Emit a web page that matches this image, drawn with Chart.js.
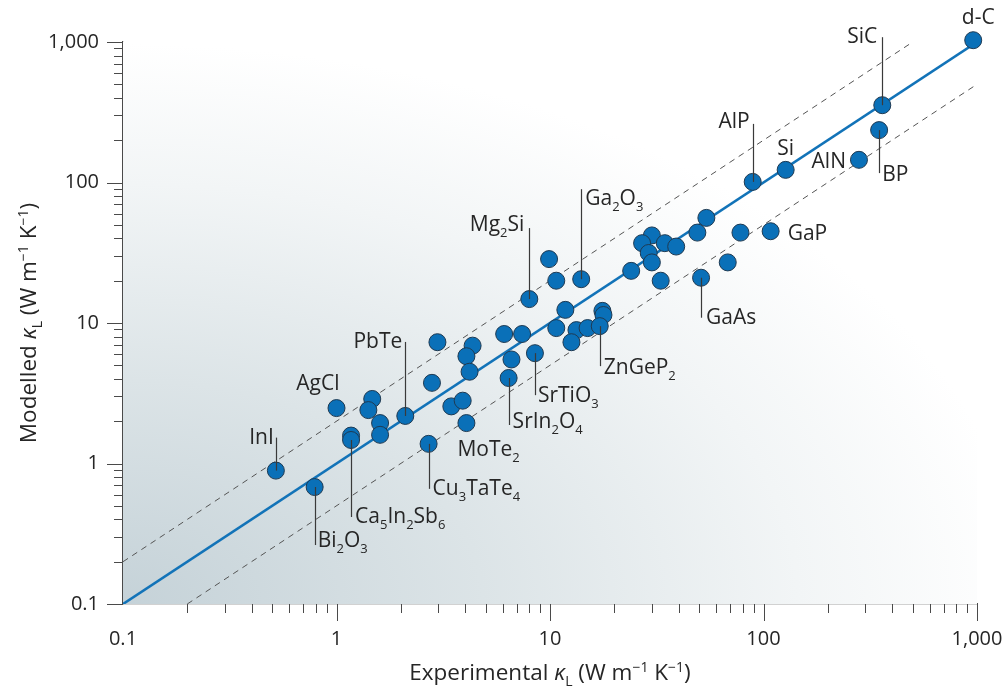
<!DOCTYPE html>
<html>
<head>
<meta charset="utf-8">
<title>Modelled vs experimental lattice thermal conductivity</title>
<script src="https://cdn.jsdelivr.net/npm/chart.js@4.4.1/dist/chart.umd.min.js"></script>
<style>
  html, body { margin: 0; padding: 0; background: #fff; }
  #kappaChart { display: block; }
</style>
</head>
<body>
<canvas id="kappaChart" width="1007" height="691"></canvas>
<script>
/* ===============================
   κL parity plot — modelled vs experimental
================================ */

// experimental κL (W m-1 K-1)
const expKappa = [
    960, 360, 348, 280, 127, 89, 108, 78, 54, 49,
    68, 51, 33, 30, 27, 34.5, 39, 29, 30, 24,
    9.9, 10.7, 14, 8, 11.8, 17.6, 17.8, 10.7, 13.3, 15,
    17.1, 12.6, 6.1, 7.4, 8.5, 6.6, 6.4, 2.97, 4.34, 4.06,
    4.2, 2.8, 3.45, 3.9, 4.06, 2.1, 1.0, 1.47, 1.41, 1.6,
    1.6, 1.17, 1.17, 2.7, 0.52, 0.79
];

// modelled κL (W m-1 K-1)
const modKappa = [
    1030, 355, 236, 145, 123, 101, 45, 44, 56, 44,
    27, 21, 20, 42, 37, 37, 35, 31.5, 27, 23.5,
    28.5, 20, 20.5, 14.8, 12.4, 12.2, 11.4, 9.2, 8.9, 9.2,
    9.5, 7.3, 8.35, 8.35, 6.1, 5.5, 4.06, 7.3, 6.9, 5.8,
    4.5, 3.75, 2.55, 2.8, 1.94, 2.18, 2.48, 2.88, 2.4, 1.94,
    1.6, 1.58, 1.47, 1.38, 0.89, 0.68
];

// material names (digits are written as subscripts), null = unlabelled
const materials = [
    'd-C', 'SiC', 'BP', 'AlN', 'Si', 'AlP', 'GaP', null, null, null,
    null, 'GaAs', null, null, null, null, null, null, null, null,
    null, null, 'Ga2O3', 'Mg2Si', null, null, null, null, null, null,
    'ZnGeP2', null, null, null, 'SrTiO3', null, 'SrIn2O4', null, null, null,
    null, null, null, null, 'MoTe2', 'PbTe', 'AgCl', null, null, null,
    null, null, 'Ca5In2Sb6', 'Cu3TaTe4', 'InI', 'Bi2O3'
];

// guide lines: parity and factor-of-two band
const parityX = [0.1, 1000];
const parityY = [0.1, 1000];
const upperX = [0.1, 500];
const upperY = [0.2, 1000];
const lowerX = [0.2, 1000];
const lowerY = [0.1, 500];

// axis ticks
const majorTicks = [0.1, 1, 10, 100, 1000];
const majorLabels = ['0.1', '1', '10', '100', '1,000'];
const minorSteps = [2, 3, 4, 5, 6, 7, 8, 9];

/* ── styling ── */
const FONT = '"Open Sans", "Noto Sans", sans-serif';
const TEXT = '#262626';
const AXIS = '#4a4a4a';
const BLUE = '#0a70b8';
const LABEL_SIZE = 21;

// where each material label sits relative to its marker (px)
const labelLayout = {
    'd-C':       { align: 'center', dx: 5,   dy: -16 },
    'SiC':       { align: 'right',  dx: -5,  dy: -62, lead: [-68, 0] },
    'BP':        { align: 'left',   dx: 3,   dy: 51,  lead: [0, 43] },
    'AlN':       { align: 'right',  dx: -13, dy: 8 },
    'Si':        { align: 'center', dx: 0,   dy: -15 },
    'AlP':       { align: 'right',  dx: -3,  dy: -54, lead: [-58, 0] },
    'GaP':       { align: 'left',   dx: 17,  dy: 9 },
    'GaAs':      { align: 'left',   dx: 5,   dy: 46,  lead: [0, 40] },
    'Ga2O3':     { align: 'left',   dx: 4,   dy: -74, lead: [-90, 0] },
    'Mg2Si':     { align: 'right',  dx: -5,  dy: -68, lead: [-71, 0] },
    'ZnGeP2':    { align: 'left',   dx: 4,   dy: 48,  lead: [0, 40] },
    'SrTiO3':    { align: 'left',   dx: 3,   dy: 49,  lead: [0, 42] },
    'SrIn2O4':   { align: 'left',   dx: 4,   dy: 50,  lead: [0, 47] },
    'MoTe2':     { align: 'left',   dx: -9,  dy: 33 },
    'PbTe':      { align: 'right',  dx: -3,  dy: -68, lead: [-74, 0] },
    'AgCl':      { align: 'right',  dx: 3,   dy: -18 },
    'InI':       { align: 'right',  dx: -2,  dy: -27, lead: [-33, 0] },
    'Bi2O3':     { align: 'left',   dx: 3,   dy: 60,  lead: [0, 58] },
    'Ca5In2Sb6': { align: 'left',   dx: 4,   dy: 83,  lead: [0, 77] },
    'Cu3TaTe4':  { align: 'left',   dx: 4,   dy: 51,  lead: [0, 45] }
};

const toPoints = (xs, ys) => xs.map((x, i) => ({ x, y: ys[i] }));

/* ── rich text (sub/superscripts, italics) ── */
function partFont(p, size) {
    const s = (p.sub || p.sup) ? Math.round(size * 0.62) : size;
    return `${p.italic ? 'italic ' : ''}${s}px ${FONT}`;
}

function richWidth(ctx, parts, size) {
    return parts.reduce((w, p) => {
        ctx.font = partFont(p, size);
        return w + ctx.measureText(p.text).width;
    }, 0);
}

function drawRich(ctx, parts, x, y, align, size) {
    const total = richWidth(ctx, parts, size);
    let cx = align === 'right' ? x - total : align === 'center' ? x - total / 2 : x;
    ctx.textAlign = 'left';
    ctx.textBaseline = 'alphabetic';
    parts.forEach(p => {
        ctx.font = partFont(p, size);
        const off = p.sub ? size * 0.27 : p.sup ? -size * 0.36 : 0;
        ctx.fillText(p.text, cx, y + off);
        cx += ctx.measureText(p.text).width;
    });
}

// "Ga2O3" -> Ga, ₂, O, ₃
function formulaParts(name) {
    return name.split(/(\d+)/).filter(Boolean)
        .map(s => /^\d+$/.test(s) ? { text: s, sub: true } : { text: s });
}

function kappaTitle(prefix) {
    return [
        { text: prefix + ' ' }, { text: 'κ', italic: true }, { text: 'L', sub: true },
        { text: ' (W m' }, { text: '−1', sup: true }, { text: ' K' }, { text: '−1', sup: true },
        { text: ')' }
    ];
}

/* ── plugins ── */
const plotBackground = {
    id: 'plotBackground',
    beforeDatasetsDraw(chart) {
        const { ctx, chartArea: a } = chart;
        const rx = 900, ry = 560;
        ctx.save();
        ctx.beginPath();
        ctx.rect(a.left, a.top, a.right - a.left, a.bottom - a.top);
        ctx.clip();
        ctx.translate(a.left, a.bottom);
        ctx.scale(rx / ry, 1);
        const g = ctx.createRadialGradient(0, 0, 0, 0, 0, ry);
        g.addColorStop(0, '#c5d2d8');
        g.addColorStop(0.4, '#dce4e7');
        g.addColorStop(0.75, '#f2f5f6');
        g.addColorStop(1, '#ffffff');
        ctx.fillStyle = g;
        ctx.fillRect(0, -ry * 1.2, ry * 1.2, ry * 1.2);
        ctx.restore();
    }
};

const axisTicks = {
    id: 'axisTicks',
    afterDraw(chart) {
        const { ctx, chartArea: a, scales: { x, y } } = chart;
        ctx.save();
        ctx.strokeStyle = AXIS;
        ctx.lineWidth = 1;
        ctx.beginPath();
        majorTicks.forEach(m => {
            const tx = Math.round(x.getPixelForValue(m)) + 0.5;
            const ty = Math.round(y.getPixelForValue(m)) + 0.5;
            if (m > majorTicks[0]) {
                ctx.moveTo(tx, a.bottom); ctx.lineTo(tx, a.bottom + 17);
            }
            ctx.moveTo(a.left - 16, ty); ctx.lineTo(a.left, ty);
            if (m === majorTicks[majorTicks.length - 1]) return;
            minorSteps.forEach(s => {
                const mx = Math.round(x.getPixelForValue(m * s)) + 0.5;
                const my = Math.round(y.getPixelForValue(m * s)) + 0.5;
                ctx.moveTo(mx, a.bottom); ctx.lineTo(mx, a.bottom + 9);
                ctx.moveTo(a.left - 9, my); ctx.lineTo(a.left, my);
            });
        });
        ctx.stroke();

        // axis titles
        ctx.fillStyle = TEXT;
        drawRich(ctx, kappaTitle('Experimental'), (a.left + a.right) / 2, 680, 'center', 22.5);
        ctx.translate(36, (a.top + a.bottom) / 2);
        ctx.rotate(-Math.PI / 2);
        drawRich(ctx, kappaTitle('Modelled'), 0, 0, 'center', 22.5);
        ctx.restore();
    }
};

const materialLabels = {
    id: 'materialLabels',
    afterDatasetsDraw(chart) {
        const { ctx } = chart;
        const meta = chart.getDatasetMeta(0);
        ctx.save();
        ctx.strokeStyle = '#3a3a3a';
        ctx.lineWidth = 1.2;
        ctx.fillStyle = TEXT;
        materials.forEach((name, i) => {
            if (!name) return;
            const lay = labelLayout[name];
            const pt = meta.data[i];
            if (lay.lead) {
                const lx = Math.round(pt.x) + 0.5;
                ctx.beginPath();
                ctx.moveTo(lx, pt.y + lay.lead[0]);
                ctx.lineTo(lx, pt.y + lay.lead[1]);
                ctx.stroke();
            }
            drawRich(ctx, formulaParts(name), pt.x + lay.dx, pt.y + lay.dy, lay.align, LABEL_SIZE);
        });
        ctx.restore();
    }
};

/* ── chart ── */
const guideLine = (xs, ys, color, width, dash) => ({
    type: 'scatter',
    data: toPoints(xs, ys),
    showLine: true,
    borderColor: color,
    borderWidth: width,
    borderDash: dash,
    pointRadius: 0,
    order: 1
});

// keep the plot box fixed regardless of edge tick labels
const noEdgePadding = s => {
    s.paddingLeft = 0; s.paddingRight = 0;
    s.paddingTop = 0; s.paddingBottom = 0;
};

new Chart(document.getElementById('kappaChart'), {
    type: 'scatter',
    data: {
        datasets: [
            {
                label: 'Materials',
                data: toPoints(expKappa, modKappa),
                pointRadius: 8.5,
                pointBackgroundColor: BLUE,
                pointBorderColor: '#1f3a52',
                pointBorderWidth: 1,
                clip: false,
                order: 0
            },
            guideLine(parityX, parityY, '#1273b8', 2.6, []),
            guideLine(upperX, upperY, '#555', 1, [6, 5]),
            guideLine(lowerX, lowerY, '#555', 1, [6, 5])
        ]
    },
    options: {
        responsive: false,
        animation: false,
        layout: { padding: { top: 42, right: 30, left: 0, bottom: 0 } },
        plugins: { legend: { display: false }, tooltip: { enabled: false } },
        scales: {
            x: {
                type: 'logarithmic',
                min: 0.1,
                max: 1000,
                afterBuildTicks: s => { s.ticks = majorTicks.map(v => ({ value: v })); },
                afterFit: s => { s.height = 87; noEdgePadding(s); },
                grid: { display: false },
                border: { display: true, color: AXIS, width: 1.2 },
                ticks: {
                    autoSkip: false,
                    maxRotation: 0,
                    padding: 15,
                    color: TEXT,
                    font: { family: FONT, size: 20 },
                    callback: v => majorLabels[majorTicks.indexOf(v)]
                }
            },
            y: {
                type: 'logarithmic',
                min: 0.1,
                max: 1000,
                afterBuildTicks: s => { s.ticks = majorTicks.map(v => ({ value: v })); },
                afterFit: s => { s.width = 123; noEdgePadding(s); },
                grid: { display: false },
                border: { display: true, color: AXIS, width: 1.2 },
                ticks: {
                    autoSkip: false,
                    padding: 16,
                    color: TEXT,
                    font: { family: FONT, size: 20 },
                    callback: v => majorLabels[majorTicks.indexOf(v)]
                }
            }
        }
    },
    plugins: [plotBackground, materialLabels, axisTicks]
});
</script>
</body>
</html>
